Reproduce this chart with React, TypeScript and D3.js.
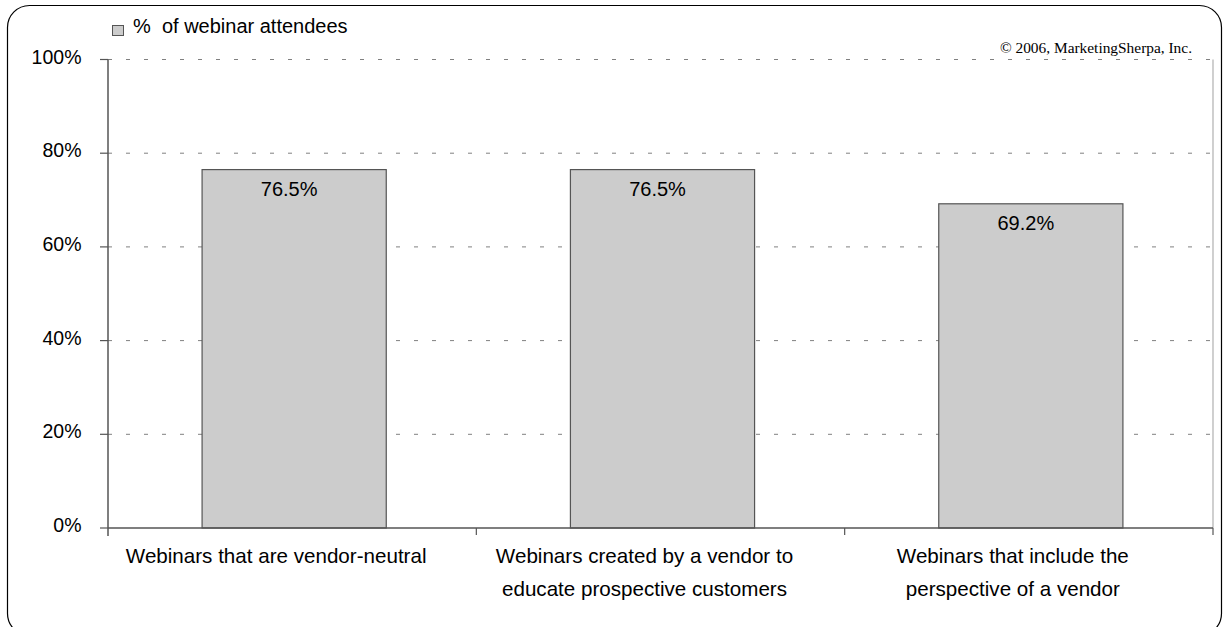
import React from "react";
import * as d3 from "d3";

const categories: string[][] = [
  ["Webinars that are vendor-neutral"],
  ["Webinars created by a vendor to", "educate prospective customers"],
  ["Webinars that include the", "perspective of a vendor"],
];
const values: number[] = [76.5, 76.5, 69.2];
const valueLabels: string[] = ["76.5%", "76.5%", "69.2%"];
const yTicks: number[] = [0, 20, 40, 60, 80, 100];
const legendLabel = "%\u00a0 of webinar attendees";
const copyright = "© 2006, MarketingSherpa, Inc.";

const W = 1223;
const H = 627;
const left = 108;
const right = 1213;
const top = 59.5;
const bottom = 528;
const font = "'Liberation Sans', Arial, sans-serif";

export default function App() {
  const x = d3
    .scaleBand<number>()
    .domain(values.map((_, i) => i))
    .range([left + 2, right + 2])
    .paddingInner(0.5)
    .paddingOuter(0.25);
  const y = d3.scaleLinear().domain([0, 100]).range([bottom, top]);
  const step = (right - left) / values.length;
  const cx = (i: number) => (x(i) as number) + x.bandwidth() / 2;

  return (
    <svg
      width={W}
      height={H}
      style={{ position: "absolute", left: 0, top: 0, background: "#fff" }}
    >
      <rect
        x={7.5}
        y={5.5}
        width={1214}
        height={630}
        rx={22}
        ry={22}
        fill="#fff"
        stroke="#000"
        strokeWidth={1.2}
      />
      {/* gridlines */}
      {yTicks
        .filter((t) => t > 0)
        .map((t) => (
          <line
            key={t}
            x1={left}
            x2={right}
            y1={y(t)}
            y2={y(t)}
            stroke="#808080"
            strokeWidth={1}
            strokeDasharray="4,14"
          />
        ))}
      {/* right border */}
      <line x1={right} x2={right} y1={top} y2={bottom} stroke="#b0b0b0" strokeWidth={1.2} />
      {/* bars */}
      {values.map((v, i) => (
        <g key={i}>
          <rect
            x={x(i)}
            y={y(v)}
            width={x.bandwidth()}
            height={bottom - y(v)}
            fill="#cccccc"
            stroke="#555"
            strokeWidth={1.2}
          />
          <text
            x={cx(i) - 5}
            y={y(v) + 26}
            textAnchor="middle"
            fontFamily={font}
            fontSize={20}
            fill="#000"
          >
            {valueLabels[i]}
          </text>
        </g>
      ))}
      {/* axes */}
      <line x1={left} x2={left} y1={top} y2={bottom + 8} stroke="#555" strokeWidth={1.5} />
      <line x1={left} x2={right} y1={bottom} y2={bottom} stroke="#555" strokeWidth={1.5} />
      {yTicks.map((t) => (
        <g key={t}>
          <line x1={left - 8} x2={left} y1={y(t)} y2={y(t)} stroke="#555" strokeWidth={1.2} />
          <text
            x={81.5}
            y={y(t) + 4}
            textAnchor="end"
            fontFamily={font}
            fontSize={19.5}
            fill="#000"
          >
            {t}%
          </text>
        </g>
      ))}
      {values.map((_, i) => (
        <line
          key={i}
          x1={left + step * (i + 1)}
          x2={left + step * (i + 1)}
          y1={bottom}
          y2={bottom + 7}
          stroke="#555"
          strokeWidth={1.2}
        />
      ))}
      {categories.map((lines, i) => (
        <text
          key={i}
          x={cx(i) - 18}
          y={563}
          textAnchor="middle"
          fontFamily={font}
          fontSize={20.6}
          fill="#000"
        >
          {lines.map((l, j) => (
            <tspan key={j} x={cx(i) - 18} dy={j === 0 ? 0 : 33}>
              {l}
            </tspan>
          ))}
        </text>
      ))}
      {/* legend */}
      <rect x={112.5} y={25.5} width={11} height={10} fill="#cccccc" stroke="#555" strokeWidth={1} />
      <text x={133} y={33} fontFamily={font} fontSize={20} fill="#000">
        {legendLabel}
      </text>
      <text
        x={1192}
        y={53}
        textAnchor="end"
        fontFamily="'Liberation Serif', 'Times New Roman', serif"
        fontSize={15.4}
        fill="#000"
      >
        {copyright}
      </text>
    </svg>
  );
}
